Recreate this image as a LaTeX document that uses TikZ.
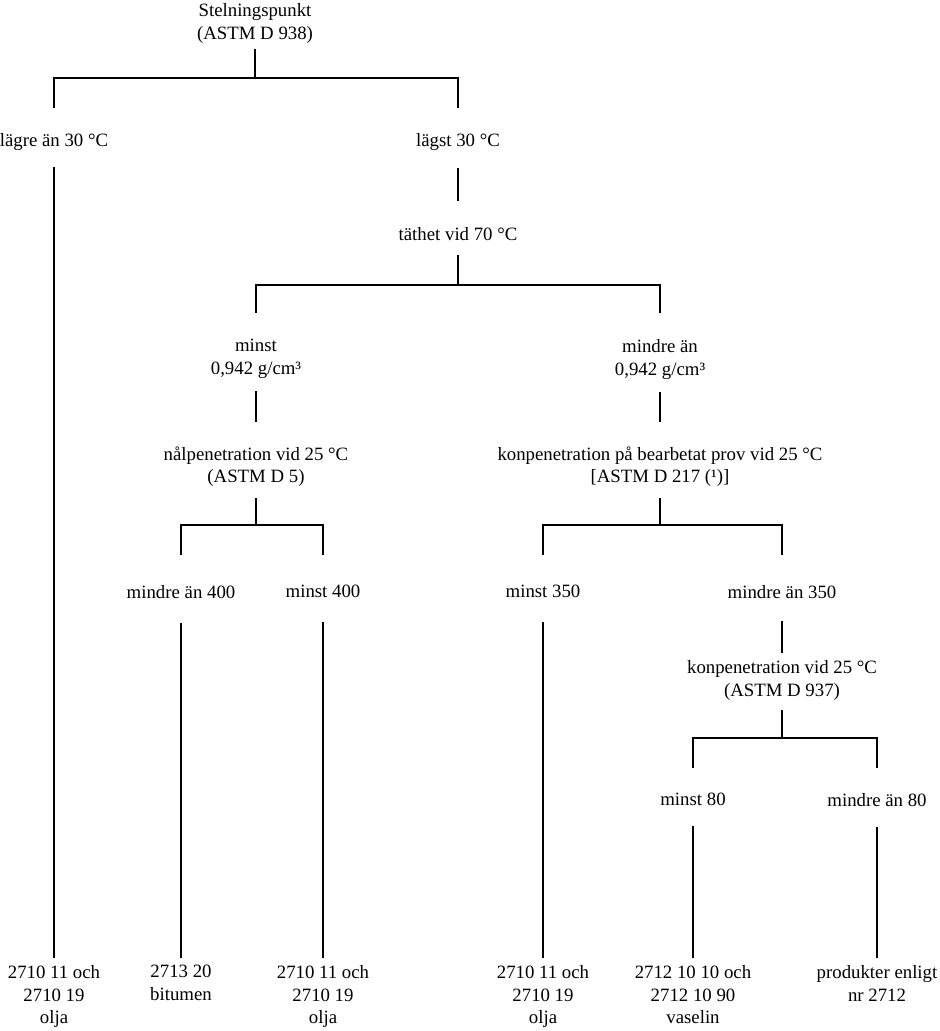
\documentclass[tikz,border=0pt]{standalone}
\usepackage{fontspec}
\setmainfont{Liberation Serif}
\usepackage{tikz}

\begin{document}
\begin{tikzpicture}[
    x=0.5pt, y=-0.5pt,
    label/.style={inner sep=0pt, anchor=north, align=center, font=\fontsize{9.4}{11.3}\selectfont},
    link/.style={line width=1.2pt}
]
    \useasboundingbox (0,0) rectangle (939,1031);

    % questions and answers
    \node[label] (stel) at (255,3) {Stelningspunkt\\(ASTM D 938)};
    \node[label] (lagre) at (54,133) {lägre än 30 °C};
    \node[label] (lagst) at (458,133) {lägst 30 °C};
    \node[label] (tathet) at (458,227) {täthet vid 70 °C};
    \node[label] (minst) at (256,339) {minst\\0,942 g/cm³};
    \node[label] (mindre) at (660,339) {mindre än\\0,942 g/cm³};
    \node[label] (nal) at (256,446) {nålpenetration vid 25 °C\\(ASTM D 5)};
    \node[label] (konbe) at (660,446) {konpenetration på bearbetat prov vid 25 °C\\{[}ASTM D 217 (¹)]};
    \node[label] (m400) at (181,585) {mindre än 400};
    \node[label] (mi400) at (323,585) {minst 400};
    \node[label] (mi350) at (543,585) {minst 350};
    \node[label] (m350) at (782,585) {mindre än 350};
    \node[label] (kon) at (782,660) {konpenetration vid 25 °C\\(ASTM D 937)};
    \node[label] (mi80) at (693,793) {minst 80};
    \node[label] (m80) at (877,793) {mindre än 80};

    % results
    \node[label] (olja1) at (54,965) {2710 11 och\\2710 19\\olja};
    \node[label] (bitumen) at (181,965) {2713 20\\bitumen};
    \node[label] (olja2) at (323,965) {2710 11 och\\2710 19\\olja};
    \node[label] (olja3) at (543,965) {2710 11 och\\2710 19\\olja};
    \node[label] (vaselin) at (693,965) {2712 10 10 och\\2712 10 90\\vaselin};
    \node[label] (prod) at (877,965) {produkter enligt\\nr 2712};

    % bar junctions
    \coordinate (j1) at (255,78);
    \coordinate (j2) at (458,285);
    \coordinate (j3) at (256,525);
    \coordinate (j4) at (660,525);
    \coordinate (j5) at (782,738);

    \draw[link, shorten <=3pt] (stel) -- (j1);
    \draw[link, shorten <=12.5pt, shorten >=12.5pt] (lagre) |- (j1) -| (lagst);
    \draw[link, shorten <=8pt, shorten >=3.5pt] (lagre) -- (olja1);
    \draw[link, shorten <=8.5pt, shorten >=13pt] (lagst) -- (tathet);

    \draw[link, shorten <=7pt] (tathet) -- (j2);
    \draw[link, shorten <=13pt, shorten >=13pt] (minst) |- (j2) -| (mindre);
    \draw[link, shorten <=6pt, shorten >=12pt] (minst) -- (nal);
    \draw[link, shorten <=6pt, shorten >=12pt] (mindre) -- (konbe);

    \draw[link, shorten <=5.5pt] (nal) -- (j3);
    \draw[link, shorten <=15pt, shorten >=15pt] (m400) |- (j3) -| (mi400);
    \draw[link, shorten <=5.5pt] (konbe) -- (j4);
    \draw[link, shorten <=15pt, shorten >=15pt] (mi350) |- (j4) -| (m350);

    \draw[link, shorten <=12pt, shorten >=3.5pt] (m400) -- (bitumen);
    \draw[link, shorten <=12pt, shorten >=3.5pt] (mi400) -- (olja2);
    \draw[link, shorten <=12pt, shorten >=3.5pt] (mi350) -- (olja3);
    \draw[link, shorten <=11pt, shorten >=3.5pt] (m350) -- (kon);

    \draw[link, shorten <=5pt] (kon) -- (j5);
    \draw[link, shorten <=12.5pt, shorten >=12.5pt] (mi80) |- (j5) -| (m80);
    \draw[link, shorten <=10pt, shorten >=3.5pt] (mi80) -- (vaselin);
    \draw[link, shorten <=10pt, shorten >=3.5pt] (m80) -- (prod);

\end{tikzpicture}
\end{document}
